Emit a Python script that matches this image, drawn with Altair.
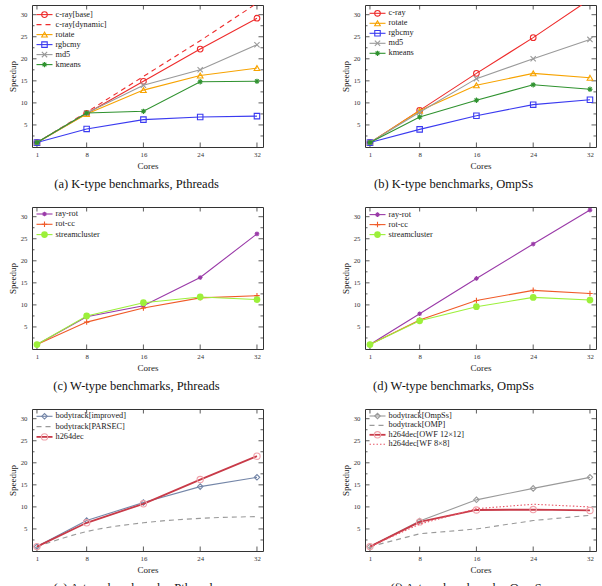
import altair as alt
import pandas as pd

FONT = "Liberation Serif"

CORES = [1, 8, 16, 24, 32]
X_TICKS = [1, 8, 16, 24, 32]
Y_TICKS = [5, 10, 15, 20, 25, 30]
Y_MINOR = [2.5, 7.5, 12.5, 17.5, 22.5, 27.5]

# (a) K-type benchmarks, Pthreads
A_CRAY_BASE = [1.0, 7.6, 14.9, 22.2, 29.2]
A_CRAY_DYN = [1.0, 7.9, 16.0, 24.1, 32.6]
A_ROTATE = [1.0, 7.5, 12.9, 16.2, 17.9]
A_RGBCMY = [1.0, 4.1, 6.2, 6.8, 7.0]
A_MD5 = [1.0, 7.7, 14.0, 17.5, 23.2]
A_KMEANS = [1.0, 7.7, 8.1, 14.8, 14.9]

# (b) K-type benchmarks, OmpSs
B_CRAY = [1.0, 8.3, 16.7, 24.8, 33.5]
B_ROTATE = [1.0, 8.2, 14.0, 16.7, 15.7]
B_RGBCMY = [1.0, 4.0, 7.1, 9.6, 10.7]
B_MD5 = [1.0, 7.9, 15.5, 20.0, 24.4]
B_KMEANS = [1.0, 6.8, 10.6, 14.1, 13.1]

# (c) W-type benchmarks, Pthreads
C_RAYROT = [1.0, 7.3, 9.8, 16.2, 26.1]
C_ROTCC = [1.0, 6.1, 9.3, 11.6, 12.1]
C_STREAM = [1.0, 7.5, 10.5, 11.8, 11.2]

# (d) W-type benchmarks, OmpSs
D_RAYROT = [1.0, 8.0, 16.0, 23.8, 31.5]
D_ROTCC = [1.0, 6.6, 11.0, 13.3, 12.6]
D_STREAM = [1.0, 6.4, 9.6, 11.7, 11.1]

# (e) A-type benchmarks, Pthreads
E_BT_IMPROVED = [1.0, 6.9, 11.0, 14.6, 16.7]
E_BT_PARSEC = [1.0, 4.4, 6.4, 7.4, 7.8]
E_H264 = [1.0, 6.4, 10.7, 16.2, 21.5]

# (f) A-type benchmarks, OmpSs
F_BT_OMPSS = [1.0, 6.8, 11.6, 14.2, 16.7]
F_BT_OMP = [1.0, 3.9, 5.0, 6.9, 8.1]
F_H264_OWF = [1.0, 6.6, 9.3, 9.4, 9.2]
F_H264_WF = [1.0, 6.1, 9.6, 10.6, 10.0]

# marker glyphs
X_PATH = "M-1,-1L1,1M-1,1L1,-1"
STAR_PATH = "M-1,0L1,0M0,-1L0,1M-0.7,-0.7L0.7,0.7M-0.7,0.7L0.7,-0.7"
PLUS_PATH = "M-1,0L1,0M0,-1L0,1"

RED = "#ee2b2b"
ORANGE = "#f7a300"
BLUE = "#3a3af0"
GRAY = "#9a9a9a"
GREEN = "#2f922f"
PURPLE = "#9a3aa8"
ORANGERED = "#f05a28"
LIME = "#9cf03a"
SLATE = "#7486a8"
DARKRED = "#c83a48"
PINK = "#f0a2aa"


def style(color, shape=None, dash=None, filled=False, size=30, width=1.1,
          mcolor=None, interp="linear"):
    return dict(color=color, shape=shape, dash=dash, filled=filled, size=size,
                width=width, mcolor=mcolor or color, interp=interp)


W, H = 231, 142
XS = alt.Scale(domain=[0.3, 32.85], nice=False, zero=False)
YS = alt.Scale(domain=[0, 32.2], nice=False, zero=False)

X_AXIS = alt.Axis(values=X_TICKS, ticks=False, domain=False, grid=False,
                  labelFont=FONT, labelFontSize=6.8, labelColor="#333",
                  labelPadding=4, title="Cores", titleFont=FONT,
                  titleFontSize=9, titleFontWeight="normal", titleColor="#222",
                  titlePadding=3, minExtent=11, maxExtent=11)
Y_AXIS = alt.Axis(values=Y_TICKS, ticks=False, domain=False, grid=False,
                  labelFont=FONT, labelFontSize=6.8, labelColor="#333",
                  labelPadding=5, title="Speedup", titleFont=FONT,
                  titleFontSize=9, titleFontWeight="normal", titleColor="#222",
                  titlePadding=3, minExtent=12, maxExtent=12)


def xenc():
    return alt.X("cores:Q", scale=XS, axis=X_AXIS)


def yenc():
    return alt.Y("speedup:Q", scale=YS, axis=Y_AXIS)


def frame_ticks():
    xt = alt.Chart(pd.DataFrame({"cores": X_TICKS}))
    yt = alt.Chart(pd.DataFrame({"speedup": Y_TICKS}))
    ym = alt.Chart(pd.DataFrame({"speedup": Y_MINOR}))
    tc = "#333"
    return [
        xt.mark_rule(color=tc, strokeWidth=0.8).encode(x=xenc(), y=alt.value(H), y2=alt.value(H - 4.5)),
        xt.mark_rule(color=tc, strokeWidth=0.8).encode(x=xenc(), y=alt.value(0), y2=alt.value(4.5)),
        yt.mark_rule(color=tc, strokeWidth=0.8).encode(y=yenc(), x=alt.value(0), x2=alt.value(4.5)),
        yt.mark_rule(color=tc, strokeWidth=0.8).encode(y=yenc(), x=alt.value(W - 4.5), x2=alt.value(W)),
        ym.mark_rule(color=tc, strokeWidth=0.8).encode(y=yenc(), x=alt.value(0), x2=alt.value(2.5)),
        ym.mark_rule(color=tc, strokeWidth=0.8).encode(y=yenc(), x=alt.value(W - 2.5), x2=alt.value(W)),
    ]


def series_layers(name, values, st):
    df = pd.DataFrame({"cores": CORES, "speedup": values, "series": name})
    base = alt.Chart(df)
    kw = dict(color=st["color"], strokeWidth=st["width"], clip=True,
              interpolate=st["interp"])
    if st["dash"]:
        kw["strokeDash"] = st["dash"]
    out = [base.mark_line(**kw).encode(x=xenc(), y=yenc())]
    if st["shape"]:
        out.append(base.mark_point(shape=st["shape"], filled=st["filled"],
                                   size=st["size"], color=st["mcolor"],
                                   strokeWidth=1.1, opacity=1, clip=True)
                   .encode(x=xenc(), y=yenc()))
    return out


def legend_layers(i, name, st, y0, step):
    yy = y0 + step * i
    one = alt.Chart(pd.DataFrame({"label": [name]}))
    kw = dict(color=st["color"], strokeWidth=st["width"])
    if st["dash"]:
        kw["strokeDash"] = st["dash"]
    out = [one.mark_rule(**kw).encode(x=alt.value(4.5), x2=alt.value(20.5), y=alt.value(yy))]
    if st["shape"]:
        out.append(one.mark_point(shape=st["shape"], filled=st["filled"],
                                  size=st["size"], color=st["mcolor"],
                                  strokeWidth=1.1, opacity=1)
                   .encode(x=alt.value(12.5), y=alt.value(yy)))
    out.append(one.mark_text(align="left", baseline="middle", font=FONT,
                             fontSize=8.3, color="#222")
               .encode(x=alt.value(23.5), y=alt.value(yy), text="label:N"))
    return out


def panel(series, caption, dx, y0, step):
    layers = frame_ticks()
    for name, values, st in series:
        layers += series_layers(name, values, st)
    for i, (name, values, st) in enumerate(series):
        layers += legend_layers(i, name, st, y0, step)
    return alt.layer(*layers).properties(
        width=W, height=H,
        title=alt.TitleParams(caption, orient="bottom", anchor="middle",
                              frame="group", dx=dx, offset=8, font=FONT,
                              fontSize=12.5, fontWeight="normal", color="#111"))


pa = panel([
    ("c-ray[base]", A_CRAY_BASE, style(RED, "circle", size=32)),
    ("c-ray[dynamic]", A_CRAY_DYN, style(RED, dash=[5, 4])),
    ("rotate", A_ROTATE, style(ORANGE, "triangle-up", size=32)),
    ("rgbcmy", A_RGBCMY, style(BLUE, "square", size=30)),
    ("md5", A_MD5, style(GRAY, X_PATH, size=28)),
    ("kmeans", A_KMEANS, style(GREEN, STAR_PATH, size=28)),
], "(a)  K-type benchmarks, Pthreads", -11, 9.6, 10)

pb = panel([
    ("c-ray", B_CRAY, style(RED, "circle", size=32)),
    ("rotate", B_ROTATE, style(ORANGE, "triangle-up", size=32)),
    ("rgbcmy", B_RGBCMY, style(BLUE, "square", size=30)),
    ("md5", B_MD5, style(GRAY, X_PATH, size=28)),
    ("kmeans", B_KMEANS, style(GREEN, STAR_PATH, size=28)),
], "(b)  K-type benchmarks, OmpSs", -27, 8.3, 10)

pc = panel([
    ("ray-rot", C_RAYROT, style(PURPLE, STAR_PATH, size=22)),
    ("rot-cc", C_ROTCC, style(ORANGERED, PLUS_PATH, size=30)),
    ("streamcluster", C_STREAM, style(LIME, "circle", filled=True, size=45)),
], "(c)  W-type benchmarks, Pthreads", -11, 7, 10.3)

pd_ = panel([
    ("ray-rot", D_RAYROT, style(PURPLE, STAR_PATH, size=22)),
    ("rot-cc", D_ROTCC, style(ORANGERED, PLUS_PATH, size=30)),
    ("streamcluster", D_STREAM, style(LIME, "circle", filled=True, size=45)),
], "(d)  W-type benchmarks, OmpSs", -27, 7.6, 10)

pe = panel([
    ("bodytrack[improved]", E_BT_IMPROVED, style(SLATE, "diamond", size=30)),
    ("bodytrack[PARSEC]", E_BT_PARSEC, style(GRAY, dash=[5, 4], interp="monotone")),
    ("h264dec", E_H264, style(DARKRED, "circle", size=40, width=1.8, mcolor=PINK)),
], "(e)  A-type benchmarks, Pthreads", -12, 7.3, 10.3)

pf = panel([
    ("bodytrack[OmpSs]", F_BT_OMPSS, style(GRAY, "diamond", size=30)),
    ("bodytrack[OMP]", F_BT_OMP, style(GRAY, dash=[5, 4])),
    ("h264dec[OWF 12×12]", F_H264_OWF, style(DARKRED, "circle", size=40, width=1.8, mcolor=PINK)),
    ("h264dec[WF 8×8]", F_H264_WF, style("#e85868", dash=[1.5, 2])),
], "(f)  A-type benchmarks, OmpSs", -12, 7, 9.4)

chart = alt.concat(
    pa, pb, pc, pd_, pe, pf,
    columns=2, spacing={"row": 60, "column": 102}, bounds="flush",
).properties(
    padding={"left": 7, "top": 4, "right": 0, "bottom": 0},
    background="white",
).configure_view(stroke="#333", strokeWidth=1)

chart.save("out.html", embed_options={"renderer": "svg", "actions": False})
